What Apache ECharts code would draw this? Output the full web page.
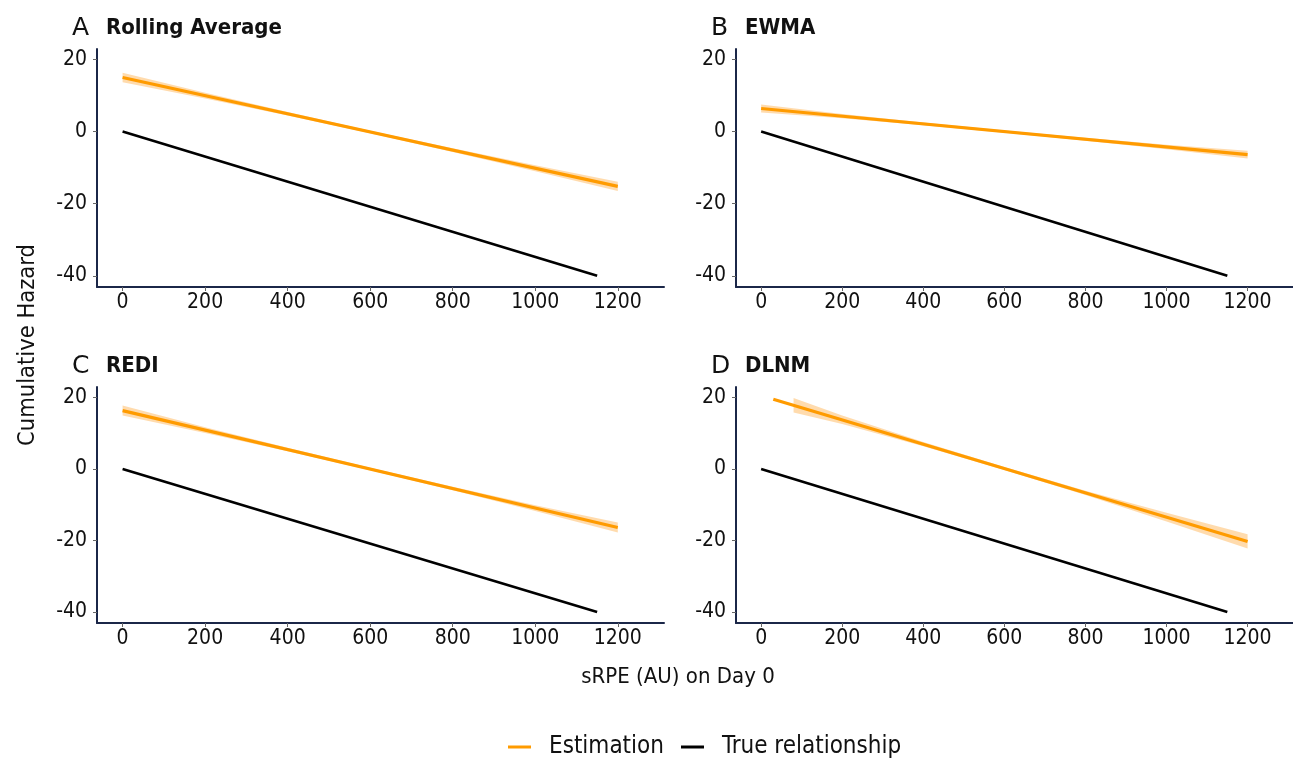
<!DOCTYPE html>
<html><head><meta charset="utf-8">
<script src="https://cdn.jsdelivr.net/npm/echarts@6/dist/echarts.min.js"></script>
<style>html,body{margin:0;padding:0;background:#fff}#c{width:1293px;height:758px}</style>
</head><body><div id="c"></div>
<script>
// ---- data ----
const panelLetters = ['A', 'B', 'C', 'D'];
const panelTitles = ['Rolling Average', 'EWMA', 'REDI', 'DLNM'];
const xTicks = [0, 200, 400, 600, 800, 1000, 1200];
const yTicks = [-40, -20, 0, 20];
const xAxisTitle = 'sRPE (AU) on Day 0';
const yAxisTitle = 'Cumulative Hazard';
const legendNames = ['Estimation', 'True relationship'];

const trueX = [0, 1150];
const trueY = [0, -40];

const estX_A = [0, 1200];
const estY_A = [15.0, -15.2];
const estX_B = [0, 1200];
const estY_B = [6.4, -6.4];
const estX_C = [0, 1200];
const estY_C = [16.3, -16.4];
const estX_D = [30, 1200];
const estY_D = [19.5, -20.3];

const bandX_A = [0, 200, 400, 600, 800, 1000, 1200];
const bandLo_A = [13.7, 9.17, 4.43, -0.45, -5.63, -10.97, -16.5];
const bandHi_A = [16.3, 10.77, 5.43, 0.25, -4.63, -9.37, -13.9];
const bandX_B = [0, 200, 400, 600, 800, 1000, 1200];
const bandLo_B = [5.3, 3.67, 1.73, -0.3, -2.53, -4.87, -7.5];
const bandHi_B = [7.5, 4.87, 2.53, 0.3, -1.73, -3.67, -5.3];
const bandX_C = [0, 200, 400, 600, 800, 1000, 1200];
const bandLo_C = [14.9, 10.05, 4.9, -0.4, -6.0, -11.75, -17.8];
const bandHi_C = [17.7, 11.65, 5.9, 0.3, -5.0, -10.15, -15.0];
const bandX_D = [80, 200, 400, 600, 800, 1000, 1200];
const bandLo_D = [15.8, 12.52, 6.31, -0.29, -7.29, -14.69, -22.3];
const bandHi_D = [19.8, 14.92, 7.51, 0.51, -6.09, -12.29, -18.3];

// ---- build ----
const estX = [estX_A, estX_B, estX_C, estX_D];
const estY = [estY_A, estY_B, estY_C, estY_D];
const bandX = [bandX_A, bandX_B, bandX_C, bandX_D];
const bandLo = [bandLo_A, bandLo_B, bandLo_C, bandLo_D];
const bandHi = [bandHi_A, bandHi_B, bandHi_C, bandHi_D];

const FONT = "'DejaVu Sans Condensed', 'DejaVu Sans', sans-serif";
const ORANGE = '#FF9B00';
const AXIS = '#1b2748';

const grids = [
  { left: 97, top: 49, width: 567, height: 238 },
  { left: 736, top: 49, width: 567, height: 238 },
  { left: 97, top: 387, width: 567, height: 236 },
  { left: 736, top: 387, width: 567, height: 236 }
];

const xAxes = [], yAxes = [], series = [], graphics = [];
grids.forEach((g, i) => {
  xAxes.push({
    type: 'value', gridIndex: i, min: -62, max: 1312,
    axisLine: { show: true, onZero: false, lineStyle: { color: AXIS, width: 2 } },
    axisTick: { show: true, length: 4, lineStyle: { color: '#666', width: 1 }, customValues: xTicks },
    axisLabel: { customValues: xTicks, formatter: v => String(v), color: '#111', fontSize: 21, fontFamily: FONT, margin: 5 },
    splitLine: { show: false }
  });
  yAxes.push({
    type: 'value', gridIndex: i, min: -43.1, max: 22.9,
    axisLine: { show: true, onZero: false, lineStyle: { color: AXIS, width: 2 } },
    axisTick: { show: true, length: 4, lineStyle: { color: '#666', width: 1 }, customValues: yTicks },
    axisLabel: { customValues: yTicks, formatter: v => String(v), color: '#111', fontSize: 21, fontFamily: FONT, margin: 10 },
    splitLine: { show: false }
  });
  const bx = bandX[i], lo = bandLo[i], hi = bandHi[i];
  series.push({
    type: 'custom', name: 'band' + i, xAxisIndex: i, yAxisIndex: i, silent: true, z: 1,
    data: [[bx[0], lo[0]]],
    renderItem: function (params, api) {
      const pts = [];
      for (let k = 0; k < bx.length; k++) pts.push(api.coord([bx[k], hi[k]]));
      for (let k = bx.length - 1; k >= 0; k--) pts.push(api.coord([bx[k], lo[k]]));
      return { type: 'polygon', shape: { points: pts }, style: { fill: 'rgba(255,160,40,0.38)' } };
    }
  });
  series.push({
    type: 'line', name: legendNames[0], xAxisIndex: i, yAxisIndex: i, z: 3,
    data: estX[i].map((x, k) => [x, estY[i][k]]),
    showSymbol: false, lineStyle: { color: ORANGE, width: 3.2 }, itemStyle: { color: ORANGE }
  });
  series.push({
    type: 'line', name: legendNames[1], xAxisIndex: i, yAxisIndex: i, z: 2,
    data: trueX.map((x, k) => [x, trueY[k]]),
    showSymbol: false, lineStyle: { color: '#000', width: 2.6 }, itemStyle: { color: '#000' }
  });
  const tx = g.left - 25, cy = g.top - 21;
  graphics.push({ type: 'text', x: tx, y: cy, style: { text: panelLetters[i], fontSize: 25, fontFamily: "'DejaVu Sans', sans-serif", fill: '#111', verticalAlign: 'middle' } });
  graphics.push({ type: 'text', x: tx + 34, y: cy, style: { text: panelTitles[i], fontSize: 22, fontWeight: 'bold', fontFamily: FONT, fill: '#111', verticalAlign: 'middle' } });
});

graphics.push({ type: 'text', x: 678, y: 677, style: { text: xAxisTitle, fontSize: 22, fontFamily: FONT, fill: '#111', align: 'center', verticalAlign: 'middle' } });
graphics.push({ type: 'text', x: 28, y: 345, rotation: Math.PI / 2, style: { text: yAxisTitle, fontSize: 23.5, fontFamily: FONT, fill: '#111', align: 'center', verticalAlign: 'middle' } });

const chart = echarts.init(document.getElementById('c'), null, { renderer: 'canvas' });
chart.setOption({
  backgroundColor: '#fff',
  animation: false,
  grid: grids,
  xAxis: xAxes,
  yAxis: yAxes,
  series: series,
  legend: {
    data: legendNames, left: 503, top: 730, icon: 'rect', itemWidth: 23, itemHeight: 3, itemGap: 17,
    textStyle: { fontSize: 24, fontFamily: FONT, color: '#111', padding: [0, 0, 0, 13] }
  },
  graphic: graphics
});
</script></body></html>
